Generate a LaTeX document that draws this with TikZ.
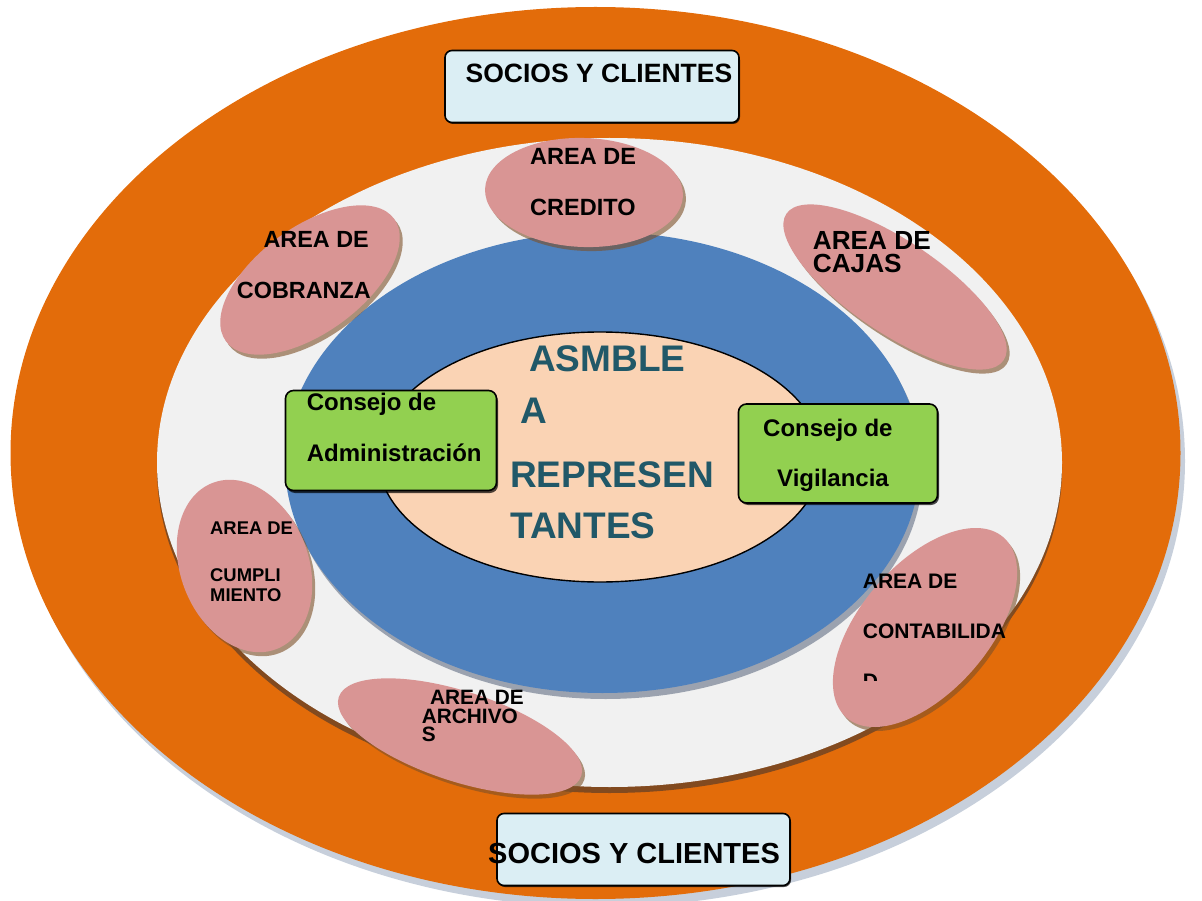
\documentclass[tikz,border=0pt]{standalone}
\usepackage{fontspec}
\setmainfont{Liberation Sans}
\definecolor{ringorange}{HTML}{E36C0A}
\definecolor{ringgray}{HTML}{F1F1F1}
\definecolor{ringblue}{HTML}{4F81BD}
\definecolor{corepeach}{HTML}{FAD3B4}
\definecolor{areapink}{HTML}{D99594}
\definecolor{councilgreen}{HTML}{92D050}
\definecolor{partnerblue}{HTML}{DBEEF4}
\definecolor{assemblyteal}{HTML}{215868}
\definecolor{outershadow}{HTML}{C7CFDB}
\tikzset{
  brownshade/.style={fill={rgb,255:red,125;green,80;blue,40}, fill opacity=0.6},
  darkshade/.style={fill={rgb,255:red,90;green,60;blue,40}, fill opacity=0.7},
  slateshade/.style={fill={rgb,255:red,70;green,85;blue,110}, fill opacity=0.5},
  boxshade/.style={fill=black, fill opacity=0.7},
  partnerbox/.style={draw=black, line width=1.6pt, fill=partnerblue, rounded corners=7pt},
  councilbox/.style={draw=black, line width=1.6pt, fill=councilgreen, rounded corners=8pt},
  lbl/.style={inner sep=0pt, anchor=base west, text=black},
  fs/.style={font=\fontsize{#1pt}{#1pt}\selectfont\bfseries},
}
% a pink area bubble: centre x, centre y, half axes a and b, tilt
\newcommand\areabubble[5]{%
  \fill[brownshade, shift={(#1+3,#2+4)}, rotate=#5] (0,0) ellipse [x radius=#3pt, y radius=#4pt];
  \fill[areapink, shift={(#1,#2)}, rotate=#5] (0,0) ellipse [x radius=#3pt, y radius=#4pt];}
\begin{document}
\begin{tikzpicture}[x=1pt, y=-1pt]
\useasboundingbox (0,0) rectangle (1202,901);

% outer ring: partners and clients
\fill[outershadow] (600,461) ellipse [x radius=585pt, y radius=446pt];
\fill[ringorange] (595.5,453) ellipse [x radius=585pt, y radius=446pt];

% ring of areas
\fill[darkshade] (609.5,468.5) ellipse [x radius=452.5pt, y radius=324.5pt];
\fill[ringgray] (609.5,462.5) ellipse [x radius=452.5pt, y radius=324.5pt];

% councils ring
\fill[slateshade] (605.5,468.5) ellipse [x radius=317.5pt, y radius=230.5pt];
\fill[ringblue] (602.5,462.5) ellipse [x radius=317.5pt, y radius=230.5pt];

% assembly core
\filldraw[draw=black, line width=1.4pt, fill=corepeach] (600,457) ellipse [x radius=222pt, y radius=125pt];

% area bubbles
\areabubble{584}{192.5}{99}{54.5}{-2}
\areabubble{310}{280}{104}{53}{36}
\areabubble{895}{287}{131}{46}{-34}
\areabubble{244.5}{566}{89}{64}{-69}
\areabubble{925}{627.5}{119.5}{64}{49}
\areabubble{460}{736.5}{127.5}{45}{-18}

% council boxes
\fill[boxshade, rounded corners=8pt] (287,393) rectangle (498,493);
\node[councilbox, minimum width=211pt, minimum height=100pt, inner sep=0pt] (admin) at (391,440.5) {};
\fill[boxshade, rounded corners=8pt] (740,406) rectangle (939,505);
\node[councilbox, minimum width=199pt, minimum height=99pt, inner sep=0pt] (vigil) at (838,453.5) {};

% partner boxes
\fill[boxshade, rounded corners=7pt] (446,53) rectangle (740,124);
\node[partnerbox, minimum width=294pt, minimum height=72pt, inner sep=0pt] (partnersTop) at (592,86.5) {};
\fill[boxshade, rounded corners=7pt] (498,815) rectangle (791,887);
\node[partnerbox, minimum width=293pt, minimum height=72pt, inner sep=0pt] (partnersBottom) at (643.5,849.5) {};

% labels
\node[lbl, fs=26.5] (tTop) at (465.5,83) {SOCIOS Y CLIENTES};
\node[lbl, fs=29] (tBottom) at (488,863) {SOCIOS Y CLIENTES};

\node[lbl, fs=37, text=assemblyteal] (as1) at (529,371) {ASMBLE};
\node[lbl, fs=37, text=assemblyteal] (as2) at (520,423) {A};
\node[lbl, fs=37, text=assemblyteal] (as3) at (510,487) {REPRESEN};
\node[lbl, fs=37, text=assemblyteal] (as4) at (510,538) {TANTES};

\node[lbl, fs=24] (ad1) at (306.7,410) {Consejo de};
\node[lbl, fs=24] (ad2) at (306.7,461.7) {Administración};
\node[lbl, fs=24] (vg1) at (763,436) {Consejo de};
\node[lbl, fs=24] (vg2) at (777,486) {Vigilancia};

\node[lbl, fs=23.5] (cr1) at (530,165) {AREA DE};
\node[lbl, fs=23.5] (cr2) at (530,216) {CREDITO};

\node[lbl, fs=23.4] (co1) at (263.3,247.3) {AREA DE};
\node[lbl, fs=23.4] (co2) at (236.7,298.3) {COBRANZA};

\node[lbl, fs=26.2] (cj1) at (812.7,249.3) {AREA DE};
\node[lbl, fs=26.2] (cj2) at (812.7,272.3) {CAJAS};

\node[lbl, fs=18.4] (cu1) at (210,534.3) {AREA DE};
\node[lbl, fs=18.4] (cu2) at (210,581) {CUMPLI};
\node[lbl, fs=18.4] (cu3) at (210,601) {MIENTO};

\node[lbl, fs=21] (ct1) at (862.7,588.3) {AREA DE};
\node[lbl, fs=21] (ct2) at (862.7,638.3) {CONTABILIDA};
\begin{scope}
  \clip (850,650) rectangle (900,680);
  \node[lbl, fs=21] (ct3) at (862.7,688.3) {D};
\end{scope}

\node[lbl, fs=20.8] (ar1) at (430,704.3) {AREA DE};
\node[lbl, fs=20.8] (ar2) at (421.7,723.3) {ARCHIVO};
\node[lbl, fs=20.8] (ar3) at (421.7,741.7) {S};
\end{tikzpicture}
\end{document}
